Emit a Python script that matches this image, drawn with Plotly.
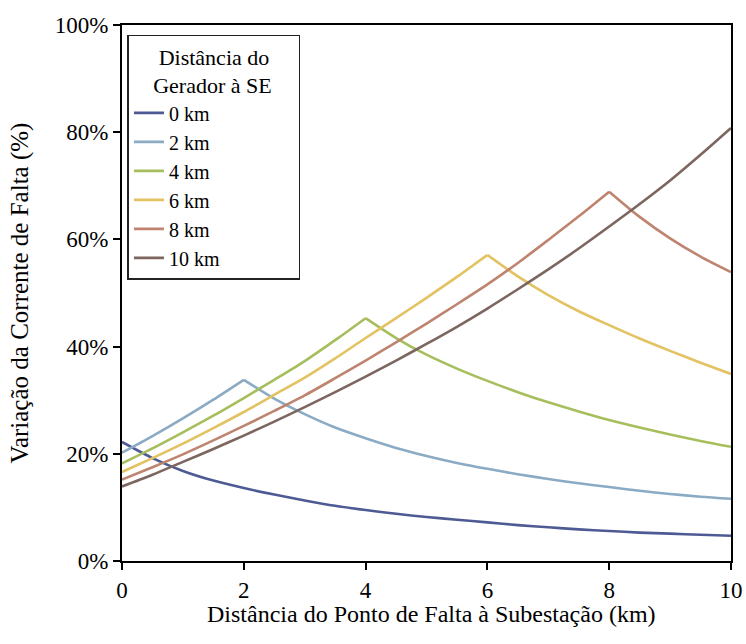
import plotly.graph_objects as go

x_km = [0, 0.5, 1, 1.5, 2, 2.5, 3, 3.5, 4, 4.5, 5, 5.5, 6, 6.5, 7, 7.5, 8, 8.5, 9, 9.5, 10]

gen_0km = [22.2, 19.2, 16.8, 15.0, 13.6, 12.4, 11.3, 10.3, 9.5, 8.8, 8.2, 7.7, 7.2, 6.7, 6.3, 5.9, 5.6, 5.3, 5.1, 4.9, 4.7]
gen_2km = [20.2, 23.3, 26.6, 30.1, 33.8, 30.3, 27.4, 24.9, 22.9, 21.1, 19.6, 18.3, 17.2, 16.2, 15.3, 14.5, 13.8, 13.1, 12.5, 12.0, 11.6]
gen_4km = [18.2, 21.0, 24.0, 27.1, 30.4, 33.8, 37.3, 41.2, 45.3, 41.6, 38.5, 35.9, 33.6, 31.5, 29.6, 27.9, 26.3, 24.9, 23.6, 22.4, 21.3]
gen_6km = [16.6, 19.2, 21.9, 24.8, 27.8, 31.0, 34.2, 37.8, 41.6, 45.3, 49.1, 53.0, 57.1, 53.1, 49.6, 46.6, 44.0, 41.5, 39.2, 37.0, 34.9]
gen_8km = [15.2, 17.5, 19.9, 22.5, 25.2, 28.0, 30.9, 34.1, 37.4, 40.8, 44.3, 47.9, 51.6, 55.6, 59.9, 64.3, 68.9, 64.2, 60.2, 56.8, 53.9]
gen_10km = [13.9, 16.1, 18.5, 20.9, 23.4, 26.0, 28.7, 31.5, 34.4, 37.4, 40.5, 43.7, 47.1, 50.7, 54.4, 58.3, 62.4, 66.6, 71.0, 75.8, 80.8]

series_names = ["0 km", "2 km", "4 km", "6 km", "8 km", "10 km"]
series_values = [gen_0km, gen_2km, gen_4km, gen_6km, gen_8km, gen_10km]
series_colors = ["#4E5A94", "#8BAAC4", "#A6BE5C", "#E3C262", "#BE8470", "#7C665F"]

x_ticks = [0, 2, 4, 6, 8, 10]
x_tick_labels = ["0", "2", "4", "6", "8", "10"]
y_ticks = [0, 20, 40, 60, 80, 100]
y_tick_labels = ["0%", "20%", "40%", "60%", "80%", "100%"]

FONT = "Liberation Serif"
NB = "\u00a0"
legend_title = NB * 5 + "Distância do" + NB * 5 + "<br>" + NB * 4 + "Gerador à SE"

fig = go.Figure()
for name, vals, col in zip(series_names, series_values, series_colors):
    p = vals.index(max(vals))
    segments = [(x_km[:p + 1], vals[:p + 1]), (x_km[p:], vals[p:])]
    first = True
    for sx, sy in segments:
        if len(sx) < 2:
            continue
        fig.add_trace(go.Scatter(
            x=sx, y=sy, mode="lines", name=name, legendgroup=name,
            showlegend=first, line=dict(color=col, width=2.6, shape="spline", smoothing=0.8)))
        first = False

fig.add_annotation(
    text="Distância do Ponto de Falta à Subestação (km)",
    xref="paper", yref="paper", x=0.509, y=-0.0995,
    xanchor="center", yanchor="middle", showarrow=False,
    font=dict(family=FONT, size=24, color="black"))

fig.update_layout(
    width=746, height=644,
    margin=dict(l=122, r=15, t=25, b=83),
    paper_bgcolor="white", plot_bgcolor="white",
    font=dict(family=FONT, size=22, color="black"),
    showlegend=True,
    legend=dict(
        x=0.009, y=0.982, xanchor="left", yanchor="top",
        bgcolor="white", bordercolor="#222222", borderwidth=1.5,
        font=dict(family=FONT, size=20, color="black"),
        title=dict(text=legend_title, side="top center",
                   font=dict(family=FONT, size=22, color="black")),
        tracegroupgap=0,
    ),
    xaxis=dict(
        range=[0, 10], tickmode="array", tickvals=x_ticks, ticktext=x_tick_labels,
        ticks="outside", ticklen=7, tickwidth=2, tickcolor="black",
        showline=True, linecolor="black", linewidth=2, mirror=True,
        showgrid=False, zeroline=False, automargin=False,
        tickfont=dict(family=FONT, size=23, color="black"),
    ),
    yaxis=dict(
        range=[0, 100], tickmode="array", tickvals=y_ticks, ticktext=y_tick_labels,
        ticks="outside", ticklen=7, tickwidth=2, tickcolor="black",
        showline=True, linecolor="black", linewidth=2, mirror=True,
        showgrid=False, zeroline=False, automargin=False,
        tickfont=dict(family=FONT, size=23, color="black"),
        title=dict(text="Variação da Corrente de Falta (%)",
                   font=dict(family=FONT, size=25, color="black"), standoff=19),
    ),
)

fig.write_html("out.html", config={"displayModeBar": False},
               post_script="document.body.style.margin='0';")
